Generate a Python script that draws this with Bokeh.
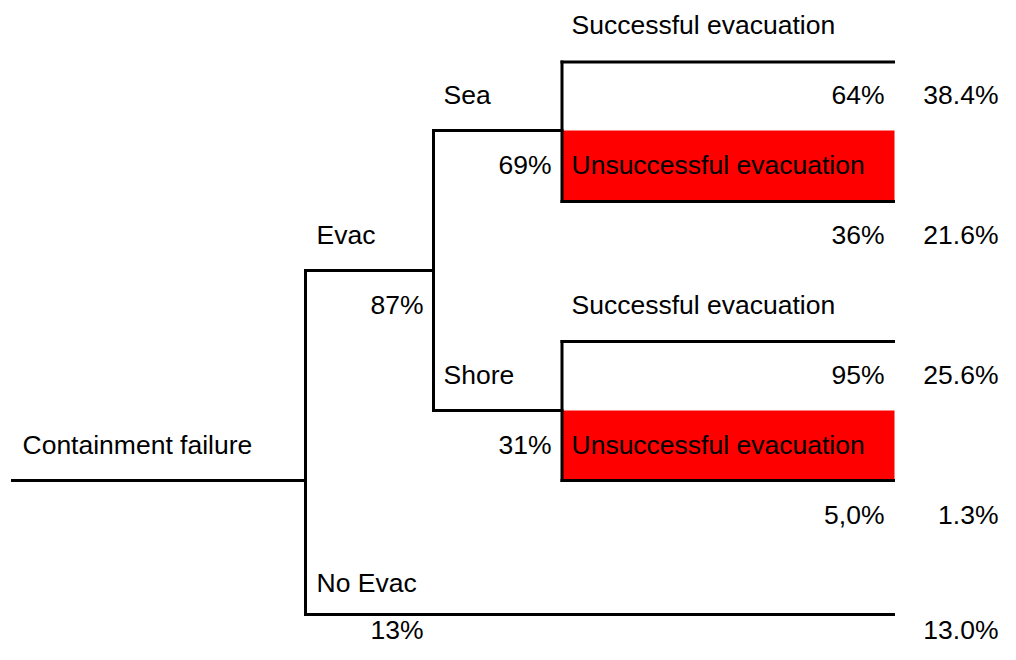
from bokeh.plotting import figure
from bokeh.models import Range1d
from bokeh.core.properties import value
from bokeh.embed import file_html
from bokeh.resources import INLINE

# ---------------- data ----------------
initiating_event = "Containment failure"
stage1_labels = ["Evac", "No Evac"]
stage1_probs = ["87%", "13%"]
stage2_labels = ["Sea", "Shore"]
stage2_probs = ["69%", "31%"]
outcome_labels = ["Successful evacuation", "Unsuccessful evacuation",
                  "Successful evacuation", "Unsuccessful evacuation"]
outcome_probs = ["64%", "36%", "95%", "5,0%"]
end_probs = ["38.4%", "21.6%", "25.6%", "1.3%", "13.0%"]
failed_outcome = [False, True, False, True]

# ---------------- layout (pixel-like coordinates) ----------------
X0, X1, X2, X3, X4 = 12, 305, 433, 561.5, 893
Y_ROOT = 480
Y_EVAC, Y_NOEVAC = 270, 614
Y_SEA, Y_SHORE = 130, 410
Y_OUT = [61.5, 201, 341, 480]          # success / failure branch lines
Y_BOX = [(130, 201), (410, 480)]       # red boxes (top, bottom)
X_END = 998                            # right edge of end-probability column
DY = -9                                # text baseline correction
ROWS = [33, 103, 173, 243, 313, 383, 453, 523, 591]
Y_BOTTOM = 638                         # baseline of bottom row of texts

FONT = value("Liberation Sans")
FS = "26.5px"

p = figure(width=1000, height=644, output_backend="svg", toolbar_location=None,
           x_range=Range1d(0, 1000), y_range=Range1d(644, 0),
           x_axis_location=None, y_axis_location=None, min_border=0,
           background_fill_color="white", border_fill_color="white")
p.grid.visible = False
p.outline_line_color = None

# red boxes for unsuccessful outcomes
box_top, box_bot = [], []
k = 0
for f in failed_outcome:
    if f:
        box_top.append(Y_BOX[k][0]); box_bot.append(Y_BOX[k][1]); k += 1
p.quad(left=[X3 + 1] * len(box_top), right=[X4 + 1] * len(box_top),
       top=box_top, bottom=box_bot, fill_color="#FF0000", line_color=None)

# tree lines
x0s, y0s, x1s, y1s = [], [], [], []
def seg(a, b, c, d):
    x0s.append(a); y0s.append(b); x1s.append(c); y1s.append(d)

seg(X0, Y_ROOT, X1, Y_ROOT)                 # initiating event
seg(X1, Y_EVAC, X1, Y_NOEVAC)               # split evac / no evac
seg(X1, Y_EVAC, X2, Y_EVAC)                 # evac
seg(X1, Y_NOEVAC, X4, Y_NOEVAC)             # no evac
seg(X2, Y_SEA, X2, Y_SHORE)                 # split sea / shore
seg(X2, Y_SEA, X3, Y_SEA)
seg(X2, Y_SHORE, X3, Y_SHORE)
seg(X3, Y_OUT[0], X3, Y_OUT[1])             # sea outcomes
seg(X3, Y_OUT[2], X3, Y_OUT[3])             # shore outcomes
for yo in Y_OUT:
    seg(X3, yo, X4, yo)
p.segment(x0=x0s, y0=y0s, x1=x1s, y1=y1s, line_color="black",
          line_width=3, line_cap="square")

# texts (alphabetic baselines)
R = [r + DY for r in ROWS]
YB = Y_BOTTOM + DY
left_x, left_y, left_t = [], [], []
right_x, right_y, right_t = [], [], []

left_x += [22]; left_y += [R[6]]; left_t += [initiating_event]
left_x += [316, 316]; left_y += [R[3], R[8]]; left_t += stage1_labels
right_x += [423, 423]; right_y += [R[4], YB]; right_t += stage1_probs
left_x += [443, 443]; left_y += [R[1], R[5]]; left_t += stage2_labels
right_x += [551, 551]; right_y += [R[2], R[6]]; right_t += stage2_probs
left_x += [571] * 4; left_y += [R[0], R[2], R[4], R[6]]; left_t += outcome_labels
right_x += [884] * 4; right_y += [R[1], R[3], R[5], R[7]]; right_t += outcome_probs
right_x += [X_END] * 5; right_y += [R[1], R[3], R[5], R[7], YB]; right_t += end_probs

p.text(x=left_x, y=left_y, text=left_t, text_align="left",
       text_baseline="alphabetic", text_font=FONT, text_font_size=FS,
       text_color="black")
p.text(x=right_x, y=right_y, text=right_t, text_align="right",
       text_baseline="alphabetic", text_font=FONT, text_font_size=FS,
       text_color="black")

open("out.html", "w").write(file_html(p, INLINE))
